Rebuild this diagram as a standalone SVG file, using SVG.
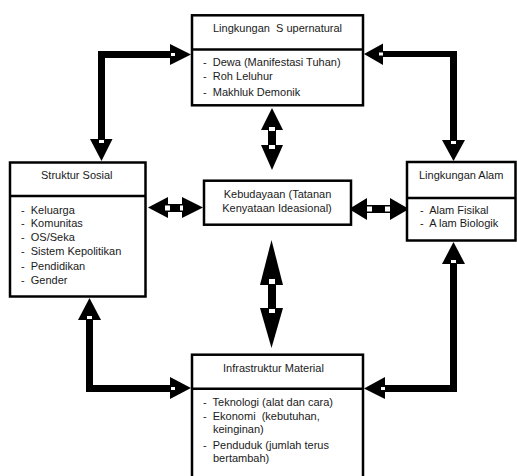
<svg xmlns="http://www.w3.org/2000/svg" width="517" height="476" viewBox="0 0 517 476">
<style>
.box{fill:#fff;stroke:#000;stroke-width:2.5}
.div{stroke:#000;stroke-width:2.5}
text{font-family:"Liberation Sans",Arial,sans-serif;font-size:11px;fill:#1a1a1a;white-space:pre}
.c{text-anchor:middle}
.sh{fill:#000}
.hd{fill:#000}
.w{fill:#fff}
</style>
<rect width="517" height="476" fill="#fff"/>
<g id="connectors">
  <!-- top-left elbow -->
  <polygon class="sh" points="98,51 170,51 170,58 105,58 105,139 98,139"/>
  <polygon class="hd" points="170,44 191,54.5 170,65"/>
  <polygon class="hd" points="90,139 112.5,139 101.5,161"/>
  <rect class="w" x="171" y="53" width="4" height="3"/>
  <rect class="w" x="99" y="140" width="5" height="3"/>
  <!-- top-right elbow -->
  <polygon class="sh" points="383,51 457,51 457,140 450,140 450,57 383,57"/>
  <polygon class="hd" points="383,43.5 364,54 383,65"/>
  <polygon class="hd" points="442,140 465,140 453.5,161"/>
  <rect class="w" x="379" y="52.5" width="4" height="3"/>
  <rect class="w" x="451" y="141" width="5" height="3"/>
  <!-- bottom-left elbow -->
  <polygon class="sh" points="86,320 93,320 93,385 170,385 170,392 86,392"/>
  <polygon class="hd" points="78,320 101,320 89.5,298"/>
  <polygon class="hd" points="170,377 191,388 170,399"/>
  <rect class="w" x="87" y="316" width="5" height="3"/>
  <rect class="w" x="171" y="387" width="4" height="3"/>
  <!-- bottom-right elbow -->
  <polygon class="sh" points="450,264 457,264 457,392 385,392 385,385 450,385"/>
  <polygon class="hd" points="442,264 465,264 453.5,242"/>
  <polygon class="hd" points="385,377 364,388.5 385,399"/>
  <rect class="w" x="451" y="260" width="5" height="3"/>
  <rect class="w" x="381" y="387" width="4" height="3"/>
  <!-- center top vertical -->
  <rect class="sh" x="268" y="129" width="8" height="17"/>
  <polygon class="hd" points="261,130 283,130 272,108"/>
  <polygon class="hd" points="261,145 283,145 272,170"/>
  <rect class="w" x="269" y="127" width="6" height="4"/>
  <rect class="w" x="269" y="145" width="6" height="4"/>
  <!-- center bottom vertical -->
  <rect class="sh" x="268" y="284" width="8" height="25"/>
  <polygon class="hd" points="260,285 283,285 271.5,240"/>
  <polygon class="hd" points="260,308 283,308 271.5,348"/>
  <rect class="w" x="269" y="279" width="6" height="5"/>
  <rect class="w" x="269" y="309" width="6" height="4"/>
  <!-- left horizontal -->
  <rect class="sh" x="167" y="204" width="16" height="8"/>
  <polygon class="hd" points="168,197 168,218 148,207.5"/>
  <polygon class="hd" points="182,197 182,218 203,207.5"/>
  <rect class="w" x="165" y="205.5" width="5" height="5"/>
  <rect class="w" x="180" y="205.5" width="3" height="5"/>
  <!-- right horizontal -->
  <rect class="sh" x="366" y="205" width="25" height="8"/>
  <polygon class="hd" points="367,198 367,220 349,209"/>
  <polygon class="hd" points="390,198 390,220 409,209"/>
  <rect class="w" x="367" y="206.5" width="5" height="5"/>
  <rect class="w" x="385" y="206.5" width="5" height="5"/>
</g>
<g id="supernatural">
  <rect class="box" x="192" y="15.3" width="171" height="90"/>
  <line class="div" x1="192" y1="49.5" x2="363" y2="49.5"/>
  <text x="213" y="32">Lingkungan  S upernatural</text>
  <text x="203" y="66">-  Dewa (Manifestasi Tuhan)</text>
  <text x="203" y="80">-  Roh Leluhur</text>
  <text x="203" y="96">-  Makhluk Demonik</text>
</g>
<g id="struktur-sosial">
  <rect class="box" x="10" y="162.5" width="135.5" height="134"/>
  <line class="div" x1="10" y1="196" x2="145.5" y2="196"/>
  <text x="41" y="179">Struktur Sosial</text>
  <text x="21" y="214">-  Keluarga</text>
  <text x="21" y="227">-  Komunitas</text>
  <text x="21" y="241">-  OS/Seka</text>
  <text x="21" y="255">-  Sistem Kepolitikan</text>
  <text x="21" y="270">-  Pendidikan</text>
  <text x="21" y="284">-  Gender</text>
</g>
<g id="kebudayaan">
  <rect class="box" x="204" y="180.7" width="147" height="44"/>
  <text class="c" x="277.5" y="198">Kebudayaan (Tatanan</text>
  <text class="c" x="277" y="212">Kenyataan Ideasional)</text>
</g>
<g id="lingkungan-alam">
  <rect class="box" x="407" y="162" width="108.5" height="78.5"/>
  <line class="div" x1="407" y1="198" x2="515.5" y2="198"/>
  <text x="419" y="179">Lingkungan Alam</text>
  <text x="420" y="214">-  Alam Fisikal</text>
  <text x="420" y="227">-  A lam Biologik</text>
</g>
<g id="infrastruktur">
  <rect class="box" x="192" y="354.7" width="171" height="130"/>
  <line class="div" x1="192" y1="388.7" x2="363" y2="388.7"/>
  <text x="223" y="372">Infrastruktur Material</text>
  <text x="203" y="406">-  Teknologi (alat dan cara)</text>
  <text x="203" y="420">-  Ekonomi  (kebutuhan,</text>
  <text x="213" y="433">keinginan)</text>
  <text x="203" y="449">-  Penduduk (jumlah terus</text>
  <text x="213" y="462">bertambah)</text>
</g>
</svg>
